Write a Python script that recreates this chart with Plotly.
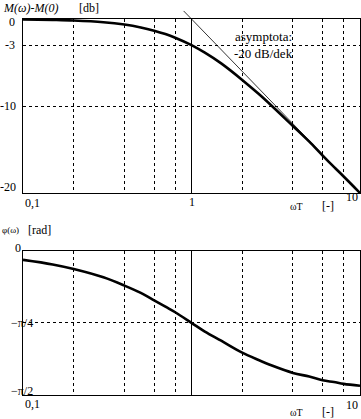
import math
import plotly.graph_objects as go

# ---- data ----
omega = [0.1, 0.15, 0.2, 0.3, 0.4, 0.5, 0.6, 0.7, 0.8, 1.0, 1.2, 1.5, 2.0, 2.5, 3.0,
         4.0, 5.0, 6.0, 7.0, 8.0, 10.0]
mag_db = [-0.04, -0.1, -0.17, -0.37, -0.64, -0.97, -1.34, -1.73, -2.15, -3.0, -3.87,
          -5.1, -7.0, -8.6, -10.0, -12.3, -14.1, -15.7, -17.0, -18.1, -20.0]
phase_rad = [-0.10, -0.15, -0.20, -0.29, -0.38, -0.46, -0.54, -0.61, -0.67, -0.785,
             -0.88, -0.98, -1.11, -1.19, -1.25, -1.33, -1.37, -1.41, -1.43, -1.45, -1.47]
asym_w = [0.88, 1.0, 10.0]
asym_db = [1.1, 0.0, -20.0]
x_grid = [0.1, 0.2, 0.4, 0.6, 0.8, 1, 2, 4, 6, 8, 10]
mag_grid = [-3, -10]
phase_grid = [-math.pi / 4]
mag_range = [-20, 0]
phase_range = [-math.pi / 2, 0]

W, H = 361, 419
ML, MR, MT, MB = 23, 1, 19, 24
PW, PH = W - ML - MR, H - MT - MB

def py(p):
    return (H - MB - p) / PH

def px(p):
    return (p - ML) / PW

FONT = "Liberation Serif"
fig = go.Figure()

fig.add_trace(go.Scatter(x=[1, 1], y=mag_range, mode="lines",
                         line=dict(color="black", width=1), xaxis="x", yaxis="y"))
# asymptote inside the plot
fig.add_trace(go.Scatter(x=asym_w[1:], y=asym_db[1:], mode="lines",
                         line=dict(color="black", width=0.8), xaxis="x", yaxis="y"))
fig.add_trace(go.Scatter(x=omega, y=mag_db, mode="lines", line_shape="spline",
                         line=dict(color="black", width=2.6), xaxis="x", yaxis="y"))
fig.add_trace(go.Scatter(x=[1, 1], y=phase_range, mode="lines",
                         line=dict(color="black", width=1), xaxis="x2", yaxis="y2"))
fig.add_trace(go.Scatter(x=omega, y=phase_rad, mode="lines", line_shape="spline",
                         line=dict(color="black", width=2.6), xaxis="x2", yaxis="y2"))

common_x = dict(type="log", range=[-1, 1], tickvals=x_grid, showticklabels=False,
                showgrid=True, gridcolor="black", gridwidth=1, griddash="dot",
                showline=True, linecolor="black", linewidth=1, mirror=True,
                ticks="", zeroline=False)
common_y = dict(showticklabels=False, showgrid=True, gridcolor="black", gridwidth=1,
                griddash="dot", showline=True, linecolor="black", linewidth=1,
                mirror=True, ticks="", zeroline=False)

fig.update_layout(
    width=W, height=H, margin=dict(l=ML, r=MR, t=MT, b=MB),
    paper_bgcolor="white", plot_bgcolor="white", showlegend=False,
    font=dict(family=FONT, size=12, color="black"),
    xaxis=dict(**common_x, domain=[0, 1], anchor="y"),
    yaxis=dict(**common_y, range=mag_range, tickvals=mag_grid,
               domain=[py(193), 1], anchor="x"),
    xaxis2=dict(**common_x, domain=[0, 1], anchor="y2"),
    yaxis2=dict(**common_y, range=phase_range, tickvals=phase_grid,
                domain=[0, py(250.7)], anchor="x2"),
)

ann = []
def t(text, x, y, xanchor="center", xref="paper", yref="paper", size=12):
    ann.append(dict(text=text, x=x, y=y, xref=xref, yref=yref, xanchor=xanchor,
                    yanchor="middle", showarrow=False,
                    font=dict(family=FONT, size=size, color="black")))

# asymptote stub above the frame (not clipped)
ann.append(dict(text="", x=math.log10(asym_w[1]), y=asym_db[1],
                ax=math.log10(asym_w[0]), ay=asym_db[0],
                xref="x", yref="y", axref="x", ayref="y",
                showarrow=True, arrowhead=0, arrowwidth=0.8, arrowcolor="black",
                standoff=0, startstandoff=0))

# top tick labels
t("0", px(17), py(22), "right")
t("-3", px(17), -3, "right", yref="y")
t("-10", px(18), -10, "right", yref="y")
t("-20", px(18), py(187), "right")
t("0,1", -1, py(203), "left", xref="x")
t("1", 0, py(202), "center", xref="x")
t("10", 1, py(197), "right", xref="x")
t("ωT", px(296), py(206), size=10)
t("[-]", px(328), py(206))
t("<i>M(ω)-M(0)</i>", px(1), py(8), "left")
t("[db]", px(77), py(8), "left")
t("asymptota:", px(263), py(37), size=13)
t("-20 dB/dek", px(263), py(53), size=13)

# bottom tick labels
t("0", px(23), py(248), "right")
t("−π/4", px(9), -math.pi / 4, "left", yref="y2")
t("−π/2", px(9), py(391), "left")
t("0,1", -1, py(404), "left", xref="x2")
t("10", 1, py(405), "right", xref="x2")
t("ωT", px(296), py(412), size=10)
t("[-]", px(328), py(412))
t("φ(ω)", px(0), py(230), "left", size=9)
t("[rad]", px(26), py(230), "left")

fig.update_layout(annotations=ann)
fig.write_html("out.html")
